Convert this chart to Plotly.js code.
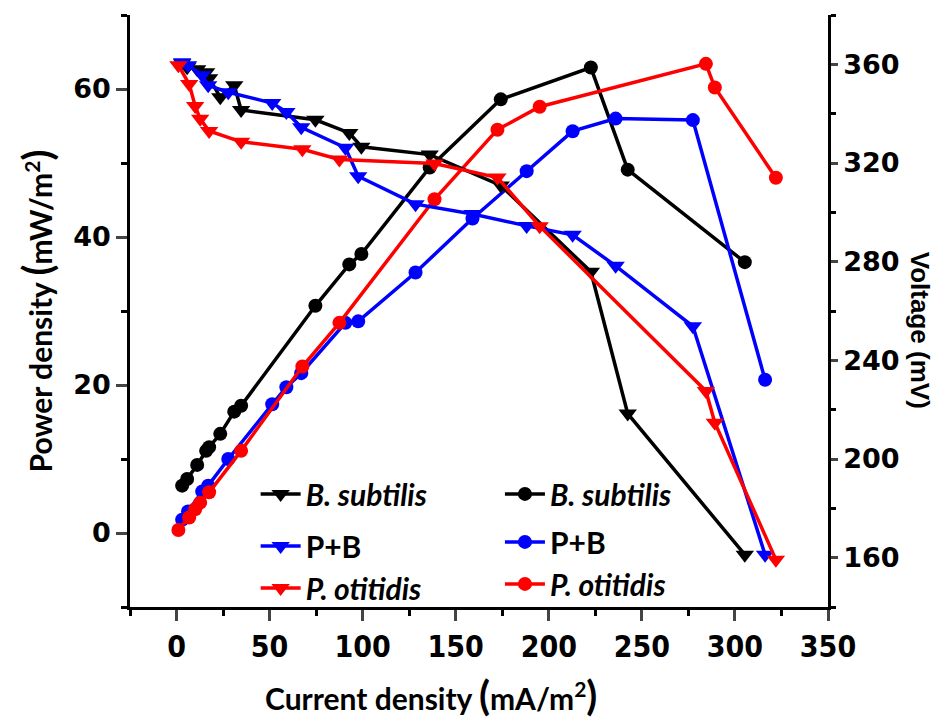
<!DOCTYPE html>
<html>
<head>
<meta charset="utf-8">
<script src="https://cdn.plot.ly/plotly-3.0.1.min.js"></script>
<style>html,body{margin:0;padding:0;background:#fff;}#chart{width:943px;height:721px;}</style>
</head>
<body>
<div id="chart"></div>
<script>
// Current density (mA/m^2)
const xBS = [3.0, 5.7, 11.1, 15.9, 17.5, 23.5, 31.0, 34.7, 74.6, 92.8, 99.3, 136.0, 174.2, 222.6, 242.4, 305.3];
const xPB = [3.0, 6.2, 13.8, 17.0, 27.8, 51.4, 59.0, 67.0, 90.7, 97.6, 128.4, 159.0, 188.1, 212.8, 235.9, 277.4, 316.2];
const xPO = [1.0, 6.8, 10.0, 12.7, 17.5, 34.7, 67.6, 87.5, 138.6, 172.4, 195.1, 284.4, 289.2, 322.0];
// Voltage (mV)
const vBS = [360.4, 358.8, 358.0, 356.8, 354.4, 346.7, 351.5, 341.5, 337.5, 332.2, 326.6, 323.4, 310.9, 275.9, 218.4, 161.2];
const vPB = [360.8, 359.6, 355.6, 351.5, 348.7, 344.3, 340.7, 334.5, 326.2, 314.6, 303.3, 299.3, 294.5, 290.9, 278.3, 253.8, 161.2];
const vPO = [359.6, 352.0, 343.1, 337.9, 333.0, 328.6, 325.6, 321.4, 319.8, 314.1, 294.4, 227.6, 214.7, 159.2];
// Power density (mW/m^2)
const pBS = [6.4, 7.3, 9.2, 11.1, 11.6, 13.4, 16.4, 17.2, 30.7, 36.3, 37.7, 49.4, 58.6, 62.9, 49.1, 36.6];
const pPB = [1.8, 2.9, 5.6, 6.4, 10.0, 17.4, 19.7, 21.6, 28.4, 28.6, 35.2, 42.5, 48.9, 54.3, 56.0, 55.8, 20.7];
const pPO = [0.4, 2.1, 3.2, 4.1, 5.5, 11.1, 22.5, 28.4, 45.1, 54.5, 57.6, 63.4, 60.2, 48.0];

const names = ['<i>B. subtilis</i>', 'P+B', '<i>P. otitidis</i>'];
const colors = ['#000000', '#0000ff', '#ff0000'];
const xs = [xBS, xPB, xPO];
const vs = [vBS, vPB, vPO];
const ps = [pBS, pPB, pPO];
const vGroups = ['v1', 'v2', 'v2'];
const pGroups = ['p1', 'p2', 'p2'];

const traces = [];
for (let i = 0; i < 3; i++) {
  traces.push({
    x: xs[i], y: vs[i], yaxis: 'y2', type: 'scatter', mode: 'lines+markers',
    name: names[i], legend: 'legend', legendgroup: vGroups[i],
    line: {color: colors[i], width: 3.5},
    marker: {symbol: 'triangle-down', size: 16, color: colors[i]}
  });
}
for (let i = 0; i < 3; i++) {
  traces.push({
    x: xs[i], y: ps[i], yaxis: 'y', type: 'scatter', mode: 'lines+markers',
    name: names[i], legend: 'legend2', legendgroup: pGroups[i],
    line: {color: colors[i], width: 3.5},
    marker: {symbol: 'circle', size: 14, color: colors[i]}
  });
}

const legendFont = {family: 'Lato, "Open Sans", sans-serif', size: 30, color: '#000', weight: 700};
const titleFont = {family: 'Lato, "Open Sans", sans-serif', size: 30, color: '#000', weight: 700};

const layout = {
  width: 943, height: 721,
  paper_bgcolor: '#ffffff', plot_bgcolor: '#ffffff',
  margin: {l: 130, r: 115, t: 15, b: 114, pad: 0},
  showlegend: true,
  xaxis: {
    range: [-25, 350], tick0: 0, dtick: 50, ticks: 'outside', ticklen: 11, tickwidth: 2.5,
    showline: true, linewidth: 2.5, linecolor: '#000', showgrid: false, zeroline: false,
    tickfont: {family: '"DejaVu Sans Condensed", "Liberation Sans Narrow", sans-serif', size: 30, color: '#000', weight: 700},
    minor: {dtick: 25, tick0: 0, ticks: 'outside', ticklen: 6, tickwidth: 2.5, tickcolor: '#000', showgrid: false}
  },
  xaxis2: {
    overlaying: 'x', side: 'top', range: [-25, 350], tick0: 0, dtick: 50,
    ticks: 'inside', ticklen: 12, tickwidth: 2.5, showticklabels: false,
    showline: true, linewidth: 2.5, linecolor: '#000', showgrid: false, zeroline: false,
    minor: {dtick: 25, tick0: 0, ticks: 'inside', ticklen: 7, tickwidth: 2.5, tickcolor: '#000', showgrid: false}
  },
  yaxis: {
    range: [-10, 70], tick0: 0, dtick: 20, ticks: 'outside', ticklen: 11, tickwidth: 2.5,
    showline: true, linewidth: 2.5, linecolor: '#000', showgrid: false, zeroline: false,
    tickfont: {family: '"DejaVu Sans", sans-serif', size: 27, color: '#000', weight: 700},
    minor: {dtick: 10, tick0: 0, ticks: 'outside', ticklen: 6, tickwidth: 2.5, tickcolor: '#000', showgrid: false},
    title: {
      text: 'Power density <span style="font-size:40px">(</span>mW/m<sup>2</sup><span style="font-size:40px">)</span>',
      font: titleFont, standoff: 12
    },
    automargin: false
  },
  yaxis2: {
    overlaying: 'y', side: 'right', range: [140, 380], tick0: 0, dtick: 40, ticks: 'outside', ticklen: 7, tickwidth: 2.5,
    showline: true, linewidth: 2.5, linecolor: '#000', showgrid: false, zeroline: false,
    tickfont: {family: '"DejaVu Sans", sans-serif', size: 27, color: '#000', weight: 700},
    minor: {dtick: 20, tick0: 0, ticks: 'outside', ticklen: 5, tickwidth: 2.5, tickcolor: '#000', showgrid: false}
  },
  legend: {
    x: 0.18, y: 0.235, xanchor: 'left', yanchor: 'top', bgcolor: 'rgba(0,0,0,0)',
    font: legendFont, traceorder: 'grouped', tracegroupgap: 10, itemwidth: 40
  },
  legend2: {
    x: 0.53, y: 0.235, xanchor: 'left', yanchor: 'top', bgcolor: 'rgba(0,0,0,0)',
    font: legendFont, traceorder: 'grouped', tracegroupgap: 6, itemwidth: 40
  },
  annotations: [
    {
      text: 'Current density <span style="font-size:40px">(</span>mA/m<sup>2</sup><span style="font-size:40px">)</span>',
      xref: 'paper', yref: 'paper', x: 0.431, y: -0.149, xanchor: 'center', yanchor: 'middle',
      showarrow: false, font: titleFont
    },
    {
      text: 'Voltage (mV)', textangle: 90,
      xref: 'paper', yref: 'paper', x: 1.132, y: 0.468, xanchor: 'center', yanchor: 'middle',
      showarrow: false, font: {family: '"Liberation Sans", sans-serif', size: 26, color: '#000', weight: 700}
    }
  ]
};

Plotly.newPlot('chart', traces, layout, {displayModeBar: false, responsive: false});
</script>
</body>
</html>
